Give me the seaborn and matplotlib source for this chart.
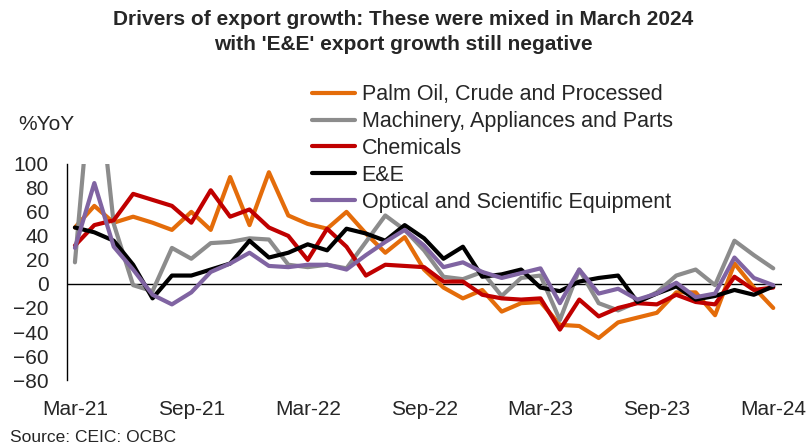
import matplotlib
matplotlib.use("Agg")
import matplotlib.pyplot as plt
import pandas as pd
import seaborn as sns

# monthly YoY export growth, Mar-21 .. Mar-24
months = list(pd.date_range("2021-03-01", "2024-03-01", freq="MS").strftime("%b-%y"))

palm_oil = [47, 65, 51, 56, 51, 45, 60, 45, 89, 49,
            93, 57, 50, 46, 60, 42, 26, 39, 12, -3,
            -12, -5, -23, -16, -15, -34, -35, -45, -32, -28,
            -24, -7, -7, -26, 17, -3, -20]
machinery = [18, 200, 50, -1, -6, 30, 21, 34, 35, 38,
             37, 16, 14, 16, 13, 35, 57, 45, 28, 6,
             4, 10, -10, 5, 7, -30, 12, -16, -22, -15,
             -7, 7, 12, -1, 36, 24, 13]
chemicals = [32, 49, 53, 75, 70, 65, 51, 78, 56, 62,
             47, 40, 20, 46, 31, 7, 16, 15, 14, 2,
             2, -9, -12, -13, -12, -38, -13, -27, -20, -16,
             -17, -9, -15, -17, 6, -5, -3]
ee = [47, 43, 36, 16, -12, 7, 7, 12, 17, 36,
      22, 26, 33, 28, 46, 42, 36, 49, 38, 21,
      31, 6, 8, 12, -3, -6, 2, 5, 7, -15,
      -8, -2, -13, -10, -5, -9, -2]
optical = [30, 84, 31, 12, -9, -17, -7, 10, 17, 26,
           15, 14, 16, 16, 12, 24, 35, 45, 32, 14,
           18, 10, 5, 9, 13, -16, 12, -8, -4, -13,
           -8, 1, -11, -8, 22, 5, -1]

series_names = ["Palm Oil, Crude and Processed",
                "Machinery, Appliances and Parts",
                "Chemicals",
                "E&E",
                "Optical and Scientific Equipment"]
colors = ["#E46C0A", "#8C8C8C", "#C00000", "#000000", "#8064A2"]
tick_labels = ["Mar-21", "Sep-21", "Mar-22", "Sep-22", "Mar-23", "Sep-23", "Mar-24"]

df = pd.DataFrame({"month": months, "idx": range(len(months))})
for name, vals in zip(series_names, [palm_oil, machinery, chemicals, ee, optical]):
    df[name] = vals
long_df = df.melt(id_vars=["month", "idx"], var_name="series", value_name="yoy")

sns.set_style("white")
plt.rcParams["font.family"] = ["Liberation Sans", "DejaVu Sans"]

fig = plt.figure(figsize=(8.07, 4.44), dpi=100)
ax = fig.add_axes([0.083, 0.144, 0.886, 0.487])

sns.lineplot(data=long_df, x="idx", y="yoy", hue="series", hue_order=series_names,
             palette=colors, linewidth=3, ax=ax, sort=False)

ax.axhline(0, color="black", linewidth=1, zorder=0)
ax.set_xlim(-0.41, 36.45)
ax.set_ylim(-80, 100)
ax.set_yticks(range(-80, 101, 20))
ax.set_xticks(range(0, 37, 6))
ax.set_xticklabels(tick_labels)
ax.tick_params(axis="both", length=0, labelsize=15)
ax.tick_params(axis="x", pad=14)
ax.tick_params(axis="y", pad=13)
ax.set_xlabel("")
ax.set_ylabel("")
for side in ["top", "right", "bottom"]:
    ax.spines[side].set_visible(False)
ax.spines["left"].set_color("black")
ax.spines["left"].set_linewidth(1)

handles, labels = ax.get_legend_handles_labels()
ax.legend(handles, labels, loc="upper left", bbox_to_anchor=(0.386, 0.810),
          bbox_transform=fig.transFigure, frameon=False, fontsize=15.5,
          handlelength=2.0, handletextpad=0.33, labelspacing=0.27, borderpad=0,
          borderaxespad=0)

fig.text(0.5, 1 - 10 / 444, "Drivers of export growth: These were mixed in March 2024\n"
         "with 'E&E' export growth still negative",
         ha="center", va="top", fontsize=15, fontweight="bold", linespacing=1.38)
fig.text(0.022, 1 - 125 / 444, "%YoY", ha="left", va="center", fontsize=15)
fig.text(0.012, 1 - 437 / 444, "Source: CEIC: OCBC", ha="left", va="center", fontsize=12.5)

fig.savefig("out.png", dpi=100)
